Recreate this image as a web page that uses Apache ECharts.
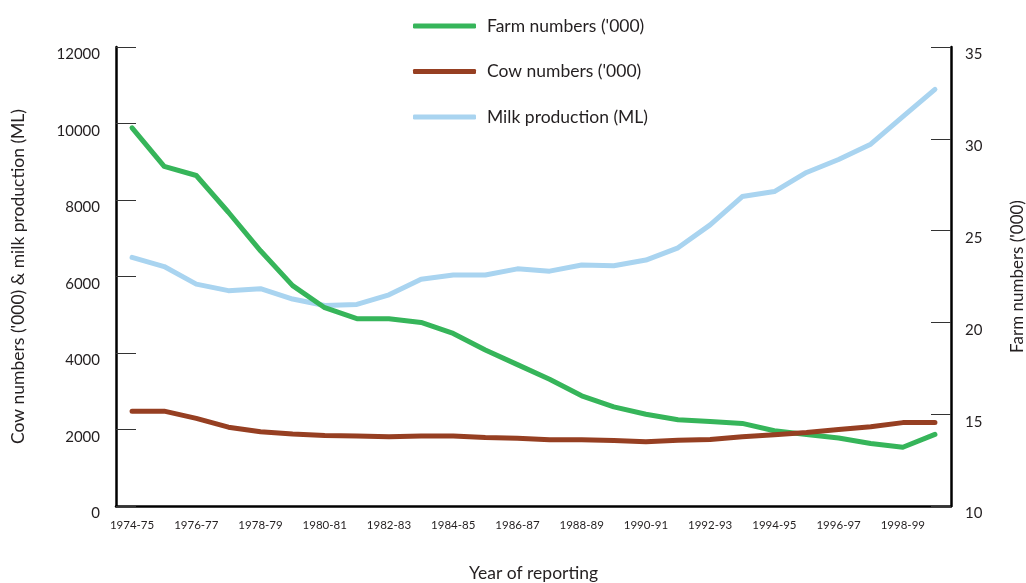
<!DOCTYPE html>
<html>
<head>
<meta charset="utf-8">
<script src="https://cdn.jsdelivr.net/npm/echarts@6/dist/echarts.min.js"></script>
<style>
html,body{margin:0;padding:0;background:#fff;}
#chart{width:1026px;height:583px;}
</style>
</head>
<body>
<div id="chart"></div>
<script>
const years = ['1974-75','1975-76','1976-77','1977-78','1978-79','1979-80','1980-81','1981-82','1982-83','1983-84','1984-85','1985-86','1986-87','1987-88','1988-89','1989-90','1990-91','1991-92','1992-93','1993-94','1994-95','1995-96','1996-97','1997-98','1998-99','1999-00'];
const farmNumbers = [30.6,28.5,28.0,26.0,23.9,22.0,20.8,20.2,20.2,20.0,19.4,18.5,17.7,16.9,16.0,15.4,15.0,14.7,14.6,14.5,14.1,13.9,13.7,13.4,13.2,13.9];
const cowNumbers = [2480,2480,2290,2060,1940,1880,1840,1830,1810,1830,1830,1790,1770,1730,1730,1710,1680,1720,1740,1810,1860,1920,2000,2070,2180,2180];
const milkProduction = [6500,6260,5800,5630,5680,5410,5240,5270,5520,5930,6040,6040,6200,6140,6300,6280,6430,6750,7350,8090,8220,8720,9060,9460,10180,10890];
const seriesNames = ["Farm numbers ('000)", "Cow numbers ('000)", "Milk production (ML)"];
const leftAxisName = "Cow numbers ('000) & milk production (ML)";
const rightAxisName = "Farm numbers ('000)";
const xAxisName = "Year of reporting";

const FONT = 'Lato';
const TXT = '#231f20';
const colors = ['#36b55a', '#963f22', '#a9d4f0'];

const chart = echarts.init(document.getElementById('chart'));
chart.setOption({
  animation: false,
  textStyle: {fontFamily: FONT, color: TXT},
  grid: {left: 116, right: 75, top: 47, bottom: 77, containLabel: false, outerBoundsMode: 'none'},
  legend: {
    orient: 'vertical',
    left: 408,
    top: 12,
    itemWidth: 63,
    itemHeight: 5,
    itemGap: 27.5,
    icon: 'roundRect',
    textStyle: {fontFamily: FONT, fontSize: 17.5, color: TXT, padding: [0,0,0,6]},
    data: seriesNames
  },
  xAxis: {
    type: 'category',
    data: years,
    boundaryGap: true,
    name: xAxisName,
    nameLocation: 'middle',
    nameGap: 58,
    nameTextStyle: {fontFamily: FONT, fontSize: 17.5, color: TXT},
    axisLine: {lineStyle: {color: '#000', width: 2.5}},
    axisTick: {show: false},
    axisLabel: {interval: 1, fontSize: 11.5, color: TXT, margin: 13, fontFamily: FONT}
  },
  yAxis: [
    {
      type: 'value', min: 0, max: 12000, interval: 2000,
      name: leftAxisName,
      nameLocation: 'middle', nameRotate: 90, nameGap: 89,
      nameTextStyle: {fontFamily: FONT, fontSize: 17.5, color: TXT},
      axisLine: {show: true, lineStyle: {color: '#000', width: 2.5}},
      axisTick: {show: true, inside: true, length: 20, lineStyle: {color: '#333', width: 1}},
      splitLine: {show: false},
      axisLabel: {fontSize: 15, color: TXT, margin: 16, verticalAlign: 'top', fontFamily: FONT,
                  formatter: function (v) { return String(v); }}
    },
    {
      type: 'value', min: 10, max: 35, interval: 5,
      name: rightAxisName,
      nameLocation: 'middle', nameRotate: 90, nameGap: 58,
      nameTextStyle: {fontFamily: FONT, fontSize: 17, color: TXT},
      axisLine: {show: true, lineStyle: {color: '#000', width: 2.5}},
      axisTick: {show: true, inside: true, length: 20, lineStyle: {color: '#333', width: 1}},
      splitLine: {show: false},
      axisLabel: {fontSize: 15, color: TXT, margin: 14, verticalAlign: 'top', fontFamily: FONT}
    }
  ],
  series: [
    {name: seriesNames[0], type: 'line', yAxisIndex: 1, data: farmNumbers, symbol: 'none',
     itemStyle: {color: colors[0]}, lineStyle: {color: colors[0], width: 5, cap: 'round', join: 'round'}},
    {name: seriesNames[1], type: 'line', yAxisIndex: 0, data: cowNumbers, symbol: 'none',
     itemStyle: {color: colors[1]}, lineStyle: {color: colors[1], width: 5, cap: 'round', join: 'round'}},
    {name: seriesNames[2], type: 'line', yAxisIndex: 0, data: milkProduction, symbol: 'none', z: 1,
     itemStyle: {color: colors[2]}, lineStyle: {color: colors[2], width: 5, cap: 'round', join: 'round'}}
  ]
});
</script>
</body>
</html>
